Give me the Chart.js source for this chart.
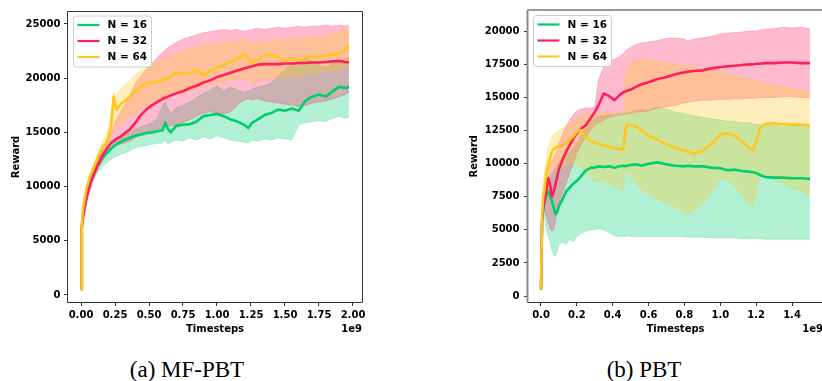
<!DOCTYPE html>
<html><head><meta charset="utf-8">
<script src="https://cdn.jsdelivr.net/npm/chart.js@4.4.1/dist/chart.umd.min.js"></script>
<style>
html,body{margin:0;padding:0;background:#fff;}
body{width:822px;height:381px;overflow:hidden;position:relative;}
canvas{position:absolute;top:0;}
.cap{position:absolute;top:358px;font-family:"Liberation Serif","Times New Roman",serif;font-size:23px;line-height:23px;color:#000;white-space:nowrap;transform:translateX(-50%);}
</style></head><body>
<canvas id="c1" width="400" height="340" style="left:0"></canvas>
<canvas id="c2" width="400" height="340" style="left:440px"></canvas>
<div class="cap" style="left:187px">(a) MF-PBT</div>
<div class="cap" style="left:644px">(b) PBT</div>
<script>
// ---------- series names & colours ----------
const SERIES = ['N = 16', 'N = 32', 'N = 64'];
const COLORS = ['#00cd6c', '#ff1f5b', '#ffc61e'];

// ---------- (a) MF-PBT : timesteps (1e9) ----------
const LX = [0,0.006,0.012,0.025,0.04,0.06,0.08,0.1,0.12,0.14,0.16,0.18,0.2,0.22,0.24,0.26,0.29,0.32,0.36,0.4,0.44,0.48,0.52,0.56,0.6,0.62,0.64,0.66,0.7,0.75,0.8,0.85,0.9,0.95,1.0,1.05,1.1,1.15,1.2,1.23,1.26,1.3,1.35,1.4,1.45,1.5,1.55,1.6,1.65,1.7,1.75,1.8,1.85,1.9,1.94,1.97];
const L16   = [500,6300,7200,8300,9300,10200,10900,11400,11900,12300,12700,13000,13200,13500,13700,13900,14100,14300,14500,14700,14800,14950,15000,15100,15200,15900,15300,15000,15600,15700,15750,16000,16500,16600,16700,16500,16200,16000,15700,15400,15900,16200,16600,16800,17100,17000,17200,17000,17900,18300,18500,18300,18800,19200,19100,19200];
const L16lo = [500,6000,6800,7800,8600,9400,10000,10800,11300,11600,11900,12100,12300,12500,12700,12800,13000,13100,13300,13600,13700,13800,13900,14000,14000,14300,13900,14100,14300,14200,14500,14300,14600,14400,14700,14500,14300,14200,14100,14000,14300,14200,14400,14300,14500,14400,14300,15700,15900,16000,16100,16000,16300,16500,16300,16400];
const L16hi = [500,6600,7500,8700,9800,10700,11500,12000,12500,12900,13300,13600,13800,14100,14300,14500,14700,14900,15100,15300,15500,15700,15900,16300,17500,17800,17200,16800,17300,17500,17800,18200,18600,18900,19300,18800,19200,18900,18700,18800,19000,19200,19300,19600,20200,20800,21300,21500,21800,21600,21200,21000,21300,21500,21800,21900];
const L32   = [500,6200,6900,7900,8900,9900,10700,11300,11900,12400,12900,13300,13700,14000,14200,14400,14600,14900,15300,15900,16600,17100,17500,17800,18100,18200,18300,18400,18600,18800,19100,19300,19600,19800,20100,20300,20500,20700,20900,21000,21100,21250,21300,21300,21300,21350,21350,21400,21400,21450,21450,21500,21550,21600,21500,21450];
const L32lo = [500,6000,6700,7600,8500,9500,10300,10900,11500,12000,12400,12800,13200,13500,13700,13800,13900,14000,14200,14500,14800,15000,15200,15300,15400,15500,15500,15600,15700,15900,16200,16500,16800,16900,16800,16700,16900,17500,18000,18100,18000,18100,17900,17800,17700,17600,17500,17400,17500,17700,17800,17900,18100,18300,18500,18700];
const L32hi = [500,6400,7100,8200,9300,10300,11100,11700,12300,12900,13400,13900,14300,14900,15600,16200,16900,17500,18500,19500,20200,20800,21300,21900,22400,22600,22800,23000,23300,23600,23800,24000,24200,24300,24400,24500,24400,24500,24300,24400,24500,24600,24500,24600,24700,24600,24700,24800,24700,24800,24800,24900,24800,24900,24800,24900];
const L64   = [500,6500,7600,8800,9800,10700,11400,12000,12600,13200,13700,13900,14500,15400,18300,17100,17600,17900,18300,18800,19300,19500,19600,19700,19800,19900,20000,20200,20500,20400,20500,20700,20300,20700,21000,21200,21500,21800,22200,21900,21400,21700,22100,22200,21900,21600,21800,21700,21900,21950,22000,22100,22200,22300,22600,23000];
const L64lo = [500,6300,7300,8500,9500,10400,11100,11700,12300,12800,13200,13500,13800,14300,15500,15300,15700,16000,16400,16800,17200,17500,17700,17900,18000,18100,18200,18300,18500,18600,18800,19000,19200,19400,19600,19700,19800,19900,20000,19800,19500,19700,19900,20000,20100,20000,20200,20100,20300,20400,20500,20600,20700,20800,21000,21100];
const L64hi = [500,6700,7900,9100,10100,11000,11700,12300,12900,13600,14200,14700,15300,16500,18700,18500,19000,19400,19800,20300,20700,21000,21300,21500,21700,21900,22000,22100,22300,22500,22700,22900,23100,23000,23300,23200,23500,23300,23700,23400,23200,23500,23300,23400,23700,23500,23800,23600,23700,23900,23800,24000,24100,24300,24600,24200];
const LXTICKS = [0,0.25,0.5,0.75,1.0,1.25,1.5,1.75,2.0];
const LYTICKS = [0,5000,10000,15000,20000,25000];

// ---------- (b) PBT ----------
const RX = [0,0.006,0.012,0.02,0.03,0.04,0.05,0.06,0.07,0.08,0.09,0.1,0.12,0.14,0.16,0.18,0.2,0.22,0.25,0.28,0.3,0.32,0.35,0.38,0.41,0.44,0.46,0.47,0.48,0.5,0.53,0.56,0.6,0.65,0.7,0.75,0.8,0.82,0.85,0.9,0.95,1.0,1.04,1.08,1.12,1.16,1.18,1.2,1.22,1.25,1.3,1.35,1.4,1.45,1.5];
const R16   = [500,5500,6600,7100,7600,7900,7600,7200,6700,6200,6300,6800,7300,7900,8200,8500,8700,9000,9500,9700,9700,9800,9750,9800,9700,9800,9850,9800,9850,9900,9950,9850,10000,10100,9950,9850,9800,9850,9800,9800,9700,9650,9500,9550,9450,9400,9350,9300,9150,9000,8950,8950,8900,8900,8850];
const R16lo = [500,5300,6300,6000,5000,4500,4200,3500,3100,3000,3400,3900,4100,3900,4300,4100,4500,4700,4900,5000,5000,5100,5000,4800,4550,4500,4500,4500,4550,4500,4500,4500,4500,4500,4500,4500,4500,4450,4450,4450,4400,4400,4400,4400,4350,4350,4350,4350,4350,4300,4300,4300,4300,4300,4300];
const R16hi = [500,5800,7000,8000,8800,9000,9100,9200,9400,9700,9900,10100,10400,10700,10800,11200,11500,12000,12800,13200,13400,13600,13600,13700,13700,13800,13700,13800,13800,13900,14000,14100,14000,14300,14100,13900,13800,13700,13600,13500,13400,13300,13200,13200,13100,13100,13000,13000,12950,12900,12900,12850,12850,12800,12800];
const R32   = [500,5800,6600,7300,8000,8900,8500,7500,7800,8400,9000,9600,10300,10900,11400,11900,12300,12600,12900,13500,13900,14400,15300,15100,14800,15200,15400,15450,15500,15600,15800,16000,16150,16400,16550,16750,16900,16950,17000,17050,17200,17300,17350,17400,17450,17500,17500,17550,17550,17600,17600,17650,17650,17600,17600];
const R32lo = [500,5500,6300,6500,6000,5500,5100,4900,5000,5600,6300,7000,7800,8500,9300,10000,10800,11400,12000,12600,12900,13100,13300,13500,13600,13700,13700,13700,13800,13800,13900,13900,14000,14200,14300,14400,14600,14650,14700,14800,14800,14850,14850,14900,14900,14950,14950,14950,15000,15000,15000,15050,15050,15000,15000];
const R32hi = [500,6000,7000,8000,9000,9800,10000,10200,10400,10700,11000,11500,12200,12800,13300,13700,14000,14100,14200,14200,14300,16300,17300,17700,17900,18100,18300,18500,18600,18800,19000,19100,19200,19300,19450,19500,19400,19300,19400,19500,19600,19800,19850,19900,19950,20000,20050,20000,20100,20150,20200,20300,20250,20300,20200];
const R64   = [500,6000,7500,8200,9200,9900,10400,10900,11100,11200,11300,11300,11400,11550,11800,12050,12400,12550,12000,11700,11550,11500,11400,11300,11150,11100,11050,12500,12950,12950,12800,12500,12150,11800,11500,11200,11000,10900,10750,10950,11500,12200,12300,12100,11700,11200,11000,11600,12700,13000,13050,13000,12950,12950,12900];
const R64lo = [500,5800,6800,7500,8200,8800,9200,9400,9500,9600,9700,9700,9800,9900,10000,10100,10000,9700,9300,8900,8700,8700,8600,8500,8300,8100,8000,9500,9400,9000,8500,8100,7700,7300,7000,6700,6300,6150,6400,7000,7800,8900,8800,8300,7700,7000,6700,7600,9200,9000,8800,8500,8200,7900,7600];
const R64hi = [500,6500,8500,9500,10500,11200,11700,12000,12200,12300,12400,12500,12700,12900,13100,13300,13500,13600,13700,13800,13800,13900,13900,13850,13800,13800,13700,16500,17300,17600,17800,17900,17800,17700,17600,17500,17450,17400,17300,17150,17000,16900,16800,16700,16550,16450,16400,16300,16200,16100,15950,15800,15700,15550,15400];
const RXTICKS = [0,0.2,0.4,0.6,0.8,1.0,1.2,1.4];
const RYTICKS = [0,2500,5000,7500,10000,12500,15000,17500,20000];

// ---------- helpers ----------
function rgba(hex, a) {
  const n = parseInt(hex.slice(1), 16);
  return `rgba(${(n>>16)&255},${(n>>8)&255},${n&255},${a})`;
}
function pts(xs, ys) { return xs.map((x, i) => ({x: x, y: ys[i]})); }
function buildDatasets(xs, means, los, his) {
  const ds = [];
  for (let i = 0; i < 3; i++) {
    ds.push({label: SERIES[i] + ' low', data: pts(xs, los[i]), borderColor: rgba(COLORS[i], 0.3),
             borderWidth: 0.8, fill: false, order: 8 - 2 * i});
    ds.push({label: SERIES[i] + ' high', data: pts(xs, his[i]), borderColor: rgba(COLORS[i], 0.3),
             borderWidth: 0.8, backgroundColor: rgba(COLORS[i], 0.3), fill: '-1', order: 7 - 2 * i});
  }
  for (let i = 0; i < 3; i++) {
    ds.push({label: SERIES[i], data: pts(xs, means[i]), borderColor: COLORS[i], borderWidth: 2.6,
             fill: false, order: 2 - i, isMean: true});
  }
  return ds;
}
const TICKFONT = {family: 'DejaVu Sans', size: 10, weight: 'bold'};

const framePlugin = {
  id: 'frame',
  afterDatasetsDraw(chart, args, o) {
    const a = chart.chartArea, ctx = chart.ctx;
    ctx.save();
    ctx.lineWidth = 1;
    ctx.strokeStyle = '#333';
    ctx.beginPath();
    ctx.moveTo(a.left - 0.5, a.bottom + 0.5);
    ctx.lineTo(a.right + 0.5, a.bottom + 0.5);
    ctx.lineTo(a.right + 0.5, a.top - 0.5);
    ctx.lineTo(a.left - 0.5, a.top - 0.5);
    ctx.stroke();
    ctx.strokeStyle = o.leftColor || '#333';
    ctx.lineWidth = o.leftWidth || 1;
    ctx.beginPath();
    ctx.moveTo(a.left - 0.5, a.top - 0.5);
    ctx.lineTo(a.left - 0.5, a.bottom + 0.5);
    ctx.stroke();
    ctx.restore();
  }
};
const legendPlugin = {
  id: 'boxLegend',
  afterDraw(chart, args, o) {
    const a = chart.chartArea, ctx = chart.ctx;
    const x0 = a.left + o.dx, y0 = a.top + o.dy, w = 78, h = 51, r = 3;
    ctx.save();
    ctx.beginPath();
    ctx.moveTo(x0 + r, y0);
    ctx.arcTo(x0 + w, y0, x0 + w, y0 + h, r);
    ctx.arcTo(x0 + w, y0 + h, x0, y0 + h, r);
    ctx.arcTo(x0, y0 + h, x0, y0, r);
    ctx.arcTo(x0, y0, x0 + w, y0, r);
    ctx.closePath();
    ctx.fillStyle = 'rgba(255,255,255,0.85)';
    ctx.fill();
    ctx.strokeStyle = '#cccccc';
    ctx.lineWidth = 1;
    ctx.stroke();
    const means = chart.data.datasets.filter(d => d.isMean);
    means.forEach((d, i) => {
      const y = y0 + 9 + i * 16;
      ctx.strokeStyle = d.borderColor;
      ctx.lineWidth = 2.2;
      ctx.beginPath();
      ctx.moveTo(x0 + 4, y);
      ctx.lineTo(x0 + 26, y);
      ctx.stroke();
      ctx.fillStyle = '#000';
      ctx.font = 'bold 10.5px "DejaVu Sans"';
      ctx.textBaseline = 'middle';
      ctx.textAlign = 'left';
      ctx.fillText(d.label, x0 + 34, y + 0.5);
    });
    ctx.restore();
  }
};
const expPlugin = {
  id: 'expLabel',
  afterDraw(chart, args, o) {
    const ctx = chart.ctx, a = chart.chartArea;
    ctx.save();
    ctx.fillStyle = '#000';
    ctx.font = 'bold 10px "DejaVu Sans"';
    ctx.textAlign = 'right';
    ctx.textBaseline = 'middle';
    ctx.fillText(o.text, Math.min(a.right, chart.width - 1), o.y);
    ctx.restore();
  }
};

function makeChart(id, cfg) {
  return new Chart(document.getElementById(id), {
    type: 'line',
    data: {datasets: cfg.datasets},
    options: {
      responsive: false, animation: false, devicePixelRatio: 1, events: [],
      elements: {point: {radius: 0, hoverRadius: 0}, line: {tension: 0, borderJoinStyle: 'round'}},
      layout: {padding: {left: 0, right: cfg.padRight, top: cfg.padTop, bottom: 0}},
      plugins: {
        legend: {display: false}, tooltip: {enabled: false},
        filler: {propagate: false},
        frame: {leftColor: cfg.leftColor, leftWidth: cfg.leftWidth},
        boxLegend: {dx: 5.5, dy: cfg.legDy},
        expLabel: {text: '1e9', y: 329}
      },
      scales: {
        x: {
          type: 'linear', min: cfg.xMin, max: cfg.xMax,
          afterBuildTicks: s => { s.ticks = cfg.xTicks.map(v => ({value: v})); },
          afterFit: s => { s.height = 38; },
          ticks: {autoSkip: false, maxRotation: 0, padding: 3, color: '#000', font: TICKFONT,
                  callback: v => Number(v).toFixed(cfg.xDec)},
          grid: {drawOnChartArea: false, tickLength: 4, color: '#333', lineWidth: 1},
          border: {display: false},
          title: {display: true, text: 'Timesteps', color: '#000', font: TICKFONT, padding: {top: 0, bottom: 5}}
        },
        y: {
          type: 'linear', min: cfg.yMin, max: cfg.yMax,
          afterBuildTicks: s => { s.ticks = cfg.yTicks.map(v => ({value: v})); },
          afterFit: s => { s.width = cfg.yWidth; },
          ticks: {autoSkip: false, padding: cfg.yPad, color: '#000', font: TICKFONT, callback: v => String(v)},
          grid: {drawOnChartArea: false, tickLength: 4, color: '#333', lineWidth: 1},
          border: {display: false},
          title: {display: true, text: 'Reward', color: '#000', font: TICKFONT, padding: {top: cfg.yTitlePad, bottom: 0}}
        }
      }
    },
    plugins: [framePlugin, legendPlugin, expPlugin]
  });
}

makeChart('c1', {
  datasets: buildDatasets(LX, [L16, L32, L64], [L16lo, L32lo, L64lo], [L16hi, L32hi, L64hi]),
  xMin: -0.0956, xMax: 2.0662, xTicks: LXTICKS, xDec: 2,
  yMin: -646, yMax: 26107, yTicks: LYTICKS,
  yWidth: 68, padRight: 38, padTop: 12, yPad: 3.6, yTitlePad: 10, legDy: 4,
  leftColor: '#333', leftWidth: 1
});
makeChart('c2', {
  datasets: buildDatasets(RX, [R16, R32, R64], [R16lo, R32lo, R64lo], [R16hi, R32hi, R64hi]),
  xMin: -0.0725, xMax: 1.5729, xTicks: RXTICKS, xDec: 1,
  yMin: -449, yMax: 21573, yTicks: RYTICKS,
  yWidth: 88, padRight: 17, padTop: 8, yPad: 4.5, yTitlePad: 28.5, legDy: 5,
  leftColor: '#8c8c8c', leftWidth: 2
});
</script>
</body></html>
